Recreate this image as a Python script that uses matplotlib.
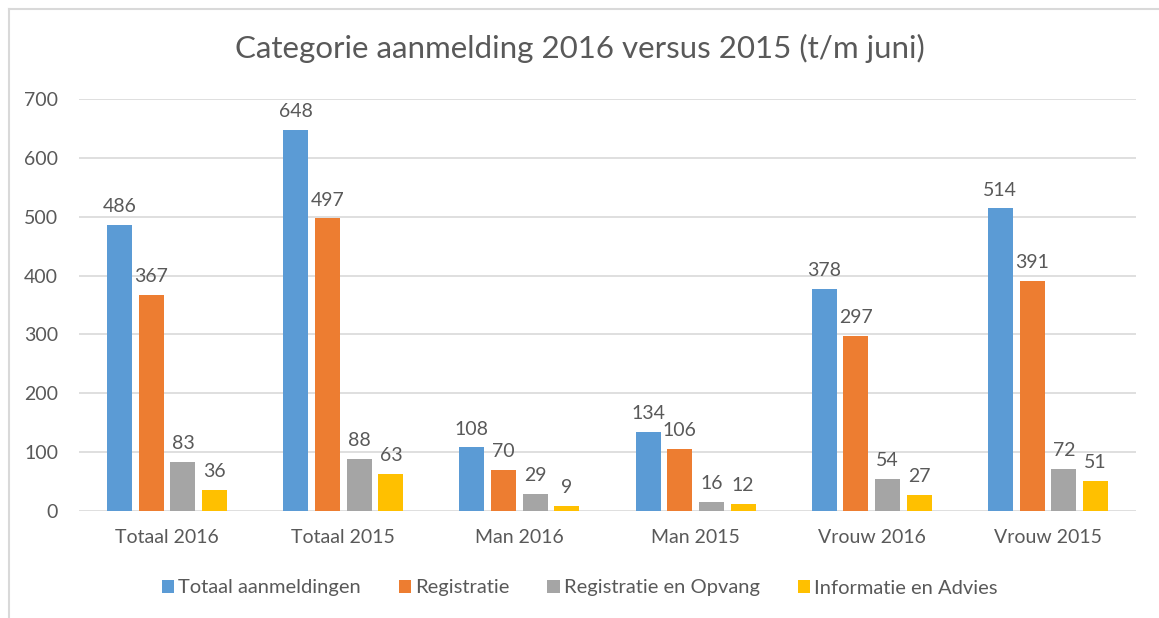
import numpy as np
import matplotlib.pyplot as plt
from matplotlib.lines import Line2D

categories = ['Totaal 2016', 'Totaal 2015', 'Man 2016', 'Man 2015', 'Vrouw 2016', 'Vrouw 2015']
series_names = ['Totaal aanmeldingen', 'Registratie', 'Registratie en Opvang', 'Informatie en Advies']
totaal = [486, 648, 108, 134, 378, 514]
registratie = [367, 497, 70, 106, 297, 391]
opvang = [83, 88, 29, 16, 54, 72]
advies = [36, 63, 9, 12, 27, 51]
colors = ['#5B9BD5', '#ED7D31', '#A5A5A5', '#FFC000']

plt.rcParams['font.family'] = ['Lato', 'DejaVu Sans']
txt = '#595959'

fig = plt.figure(figsize=(11.59, 6.18), dpi=100)
ax = fig.add_axes([79 / 1159, 1 - 511 / 618, (1136 - 79) / 1159, (511 - 99) / 618])

x = np.arange(len(categories))
w = 0.142
step = 0.18
for i, (vals, name) in enumerate(zip([totaal, registratie, opvang, advies], series_names)):
    pos = x + (i - 1.5) * step
    bars = ax.bar(pos, vals, width=w, color=colors[i], label=name, zorder=3)
    for b, v in zip(bars, vals):
        ax.annotate(str(v), (b.get_x() + b.get_width() / 2, v), xytext=(0, 7),
                    textcoords='offset points', ha='center', va='bottom',
                    fontsize=14, color=txt)

ax.set_xlim(-0.5, len(categories) - 0.5)
ax.set_ylim(0, 700)
ax.set_yticks(range(0, 701, 100))
ax.set_xticks(x)
ax.set_xticklabels(categories)
ax.grid(axis='y', color='#D9D9D9', lw=1.2, zorder=0)
for s in ax.spines.values():
    s.set_visible(False)
ax.tick_params(axis='both', length=0, labelsize=14, labelcolor=txt)
ax.tick_params(axis='y', pad=15)
ax.tick_params(axis='x', pad=13)

fig.text(0.5, 1 - 48 / 618, 'Categorie aanmelding 2016 versus 2015 (t/m juni)',
         ha='center', va='center', fontsize=22.5, color=txt)

fig.legend(loc='center', bbox_to_anchor=(0.5, 1 - 588 / 618), ncol=4, frameon=False,
           fontsize=14.5, labelcolor=txt, handlelength=0.6, handleheight=0.6,
           handletextpad=0.2, columnspacing=1.9)

# chart frame (cropped on right and bottom)
fig.add_artist(Line2D([9 / 1159, 9 / 1159], [0, 1 - 9 / 618], color='#D9D9D9', lw=1.5))
fig.add_artist(Line2D([9 / 1159, 1], [1 - 9 / 618, 1 - 9 / 618], color='#D9D9D9', lw=1.5))

fig.savefig('out.png', dpi=100)
